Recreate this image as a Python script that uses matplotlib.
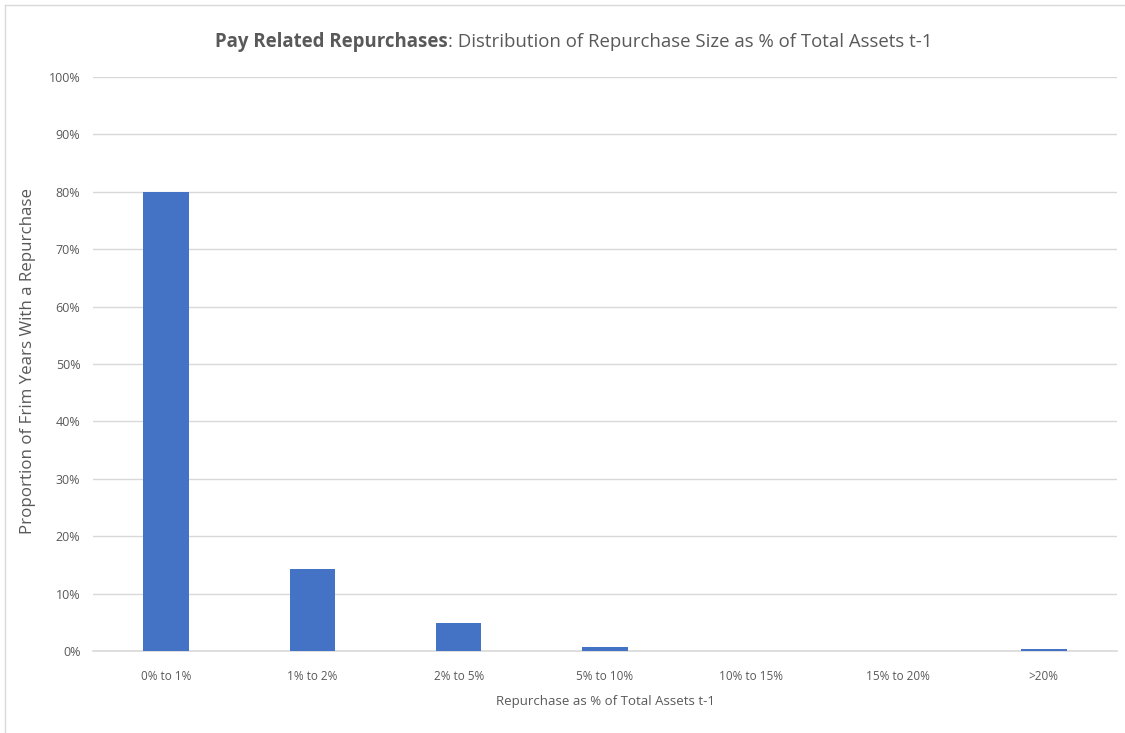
import numpy as np
import matplotlib.pyplot as plt
from matplotlib.lines import Line2D
from matplotlib.ticker import PercentFormatter

# Datos
categories = ["0% to 1%", "1% to 2%", "2% to 5%", "5% to 10%",
              "10% to 15%", "15% to 20%", ">20%"]
shares = [80.0, 14.2, 4.9, 0.7, 0.0, 0.0, 0.3]
y_ticks = list(range(0, 101, 10))

title_bold = "Pay Related Repurchases"
title_rest = ": Distribution of Repurchase Size as % of Total Assets t-1"
x_label = "Repurchase as % of Total Assets t-1"
y_label = "Proportion of Frim Years With a Repurchase"

bar_color = "#4472C4"
grid_color = "#D9D9D9"
text_color = "#595959"

plt.rcParams['font.family'] = ['Open Sans', 'DejaVu Sans']

fig = plt.figure(figsize=(11.25, 7.33), dpi=100)
ax = fig.add_axes([93 / 1125, 1 - 651 / 733, 1024 / 1125, 574 / 733])

x = np.arange(len(categories))
ax.bar(x, shares, width=0.31, color=bar_color, zorder=3)

ax.set_xlim(-0.5, len(categories) - 0.5)
ax.set_ylim(0, 100)
ax.set_yticks(y_ticks)
ax.yaxis.set_major_formatter(PercentFormatter(decimals=0))
ax.set_xticks(x)
ax.set_xticklabels(categories)
ax.tick_params(axis='both', length=0, labelsize=8.5, colors=text_color)
ax.tick_params(axis='y', labelsize=9)
ax.tick_params(axis='x', pad=14)
ax.tick_params(axis='y', pad=9)
ax.grid(axis='y', color=grid_color, linewidth=1, zorder=0)
for side in ['top', 'right', 'left']:
    ax.spines[side].set_visible(False)
ax.spines['bottom'].set_color(grid_color)
ax.spines['bottom'].set_linewidth(1.2)

ax.set_xlabel(x_label, fontsize=9.5, color=text_color, labelpad=8)
ax.set_ylabel(y_label, fontsize=12.2, color=text_color)
ax.yaxis.set_label_coords(-(93 - 36) / 1024, 0.505)

# Título con parte en negrita
fig.canvas.draw()
renderer = fig.canvas.get_renderer()
t1 = fig.text(0, 0, title_bold, fontsize=13.4, fontweight='bold', color=text_color)
t2 = fig.text(0, 0, title_rest, fontsize=13.4, color=text_color)
w1 = t1.get_window_extent(renderer).width
w2 = t2.get_window_extent(renderer).width
x0 = (574 - (w1 + w2) / 2) / 1125
ty = 1 - 47 / 733
t1.set_position((x0, ty))
t2.set_position((x0 + w1 / 1125, ty))

# Borde del gráfico (arriba e izquierda)
fig.add_artist(Line2D([5 / 1125, 1], [1 - 5 / 733, 1 - 5 / 733],
                      transform=fig.transFigure, color=grid_color, linewidth=1))
fig.add_artist(Line2D([5 / 1125, 5 / 1125], [0, 1 - 5 / 733],
                      transform=fig.transFigure, color=grid_color, linewidth=1))

fig.savefig("out.png", dpi=100)
